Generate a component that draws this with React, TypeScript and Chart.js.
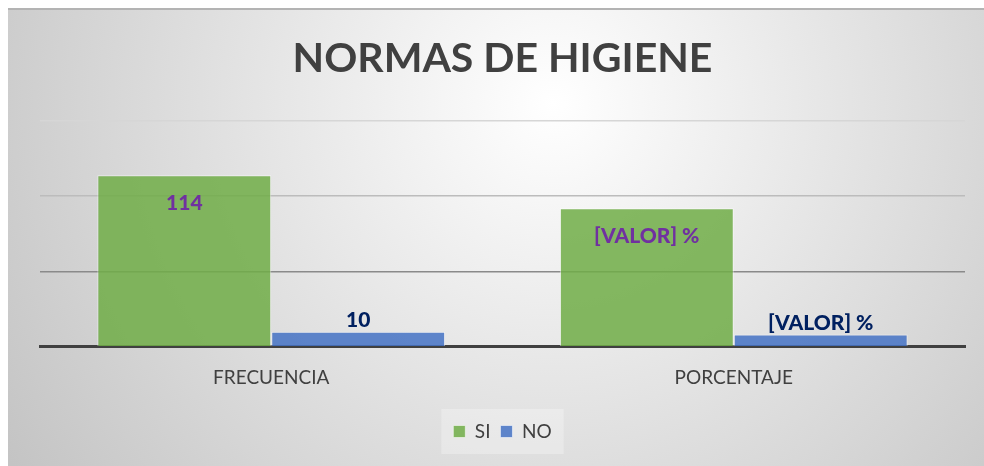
import React, { useEffect, useRef } from "react";
import { Chart, registerables } from "chart.js";

Chart.register(...registerables);

const titleText = "NORMAS DE HIGIENE";
const categories = ["FRECUENCIA", "PORCENTAJE"];
const seriesNames = ["SI", "NO"];
const siValues = [114, 91.94];
const noValues = [10, 8.06];
const siLabels = ["114", "[VALOR] %"];
const noLabels = ["10", "[VALOR] %"];
const yMin = 0;
const yMax = 150;
const yStep = 50;

const FONT = "Lato, 'Open Sans', 'DejaVu Sans', sans-serif";

const gridColorFor = (v: number) => {
  if (v === 150) return "#d6d6d6";
  if (v === 100) return "#bcbcbc";
  if (v === 50) return "#8a8a8a";
  return "rgba(0,0,0,0)";
};

const bgPlugin = {
  id: "bgPlugin",
  beforeDraw(chart: any) {
    const { ctx, width, height } = chart;
    ctx.save();
    const g = ctx.createRadialGradient(545, 95, 0, 545, 95, 650);
    g.addColorStop(0, "#ffffff");
    g.addColorStop(1, "#c4c4c4");
    ctx.fillStyle = g;
    ctx.fillRect(0, 0, width, height);
    ctx.fillStyle = "#b3b3b3";
    ctx.fillRect(0, 0, width, 2);
    const lg = chart.legend;
    if (lg && lg.legendHitBoxes && lg.legendHitBoxes.length) {
      let l = Infinity, t = Infinity, r = -Infinity, b = -Infinity;
      lg.legendHitBoxes.forEach((h: any) => {
        l = Math.min(l, h.left);
        t = Math.min(t, h.top);
        r = Math.max(r, h.left + h.width);
        b = Math.max(b, h.top + h.height);
      });
      ctx.fillStyle = "rgba(255,255,255,0.28)";
      ctx.fillRect(l - 12, t - 13, r - l + 24, b - t + 26);
    }
    ctx.restore();
  },
};

const labelPlugin = {
  id: "labelPlugin",
  afterDatasetsDraw(chart: any) {
    const ctx = chart.ctx;
    ctx.save();
    ctx.font = `900 21px ${FONT}`;
    ctx.textAlign = "center";
    ctx.textBaseline = "middle";
    chart.getDatasetMeta(0).data.forEach((bar: any, i: number) => {
      ctx.fillStyle = "#7030A0";
      ctx.fillText(siLabels[i], bar.x, bar.y + 28);
    });
    chart.getDatasetMeta(1).data.forEach((bar: any, i: number) => {
      ctx.fillStyle = "#002060";
      ctx.fillText(noLabels[i], bar.x, bar.y - 11);
    });
    ctx.restore();
  },
};

export default function App() {
  const ref = useRef<HTMLCanvasElement | null>(null);
  useEffect(() => {
    if (!ref.current) return;
    const chart = new Chart(ref.current, {
      type: "bar",
      data: {
        labels: categories,
        datasets: [
          {
            label: seriesNames[0],
            data: siValues,
            backgroundColor: "rgba(112,173,71,0.85)",
            borderColor: "rgba(255,255,255,0.55)",
            borderWidth: 1,
            barPercentage: 1,
            categoryPercentage: 0.752,
          },
          {
            label: seriesNames[1],
            data: noValues,
            backgroundColor: "rgba(68,114,196,0.85)",
            borderColor: "rgba(255,255,255,0.55)",
            borderWidth: 1,
            barPercentage: 1,
            categoryPercentage: 0.752,
          },
        ],
      },
      options: {
        animation: false,
        responsive: true,
        maintainAspectRatio: false,
        layout: { padding: { left: 32, right: 19, top: 0, bottom: 15 } },
        plugins: {
          title: {
            display: true,
            text: titleText,
            color: "#404040",
            font: { family: FONT, size: 41, weight: "bold" },
            padding: { top: 26.5, bottom: 37.3 },
          },
          legend: {
            display: true,
            position: "bottom",
            labels: {
              boxWidth: 12,
              boxHeight: 12,
              padding: 10,
              color: "#404040",
              font: { family: FONT, size: 19 },
            },
          },
          tooltip: { enabled: false },
        },
        scales: {
          x: {
            z: 1,
            grid: { display: false, drawTicks: false },
            border: { display: true, color: "#404040", width: 3 },
            ticks: { color: "#404040", font: { family: FONT, size: 19 }, padding: 20 },
            afterFit: (scale: any) => {
              scale.height += 2.5;
            },
          },
          y: {
            min: yMin,
            max: yMax,
            grid: {
              drawTicks: false,
              color: (c: any) => gridColorFor(c.tick.value),
              lineWidth: 1.5,
            },
            border: { display: false },
            ticks: { display: false, stepSize: yStep },
          },
        },
      },
      plugins: [bgPlugin, labelPlugin],
    });
    return () => chart.destroy();
  }, []);
  return (
    <div style={{ position: "fixed", left: 8, top: 8, width: 976, height: 458 }}>
      <canvas ref={ref} />
    </div>
  );
}
